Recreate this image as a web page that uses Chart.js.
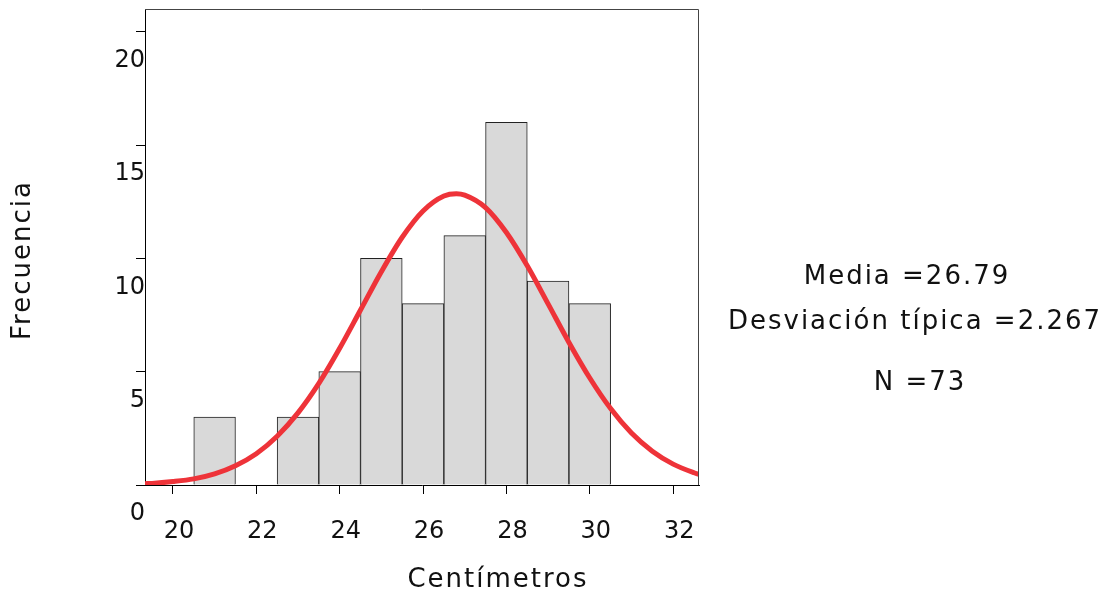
<!DOCTYPE html>
<html>
<head>
<meta charset="utf-8">
<script src="https://cdn.jsdelivr.net/npm/chart.js@4/dist/chart.umd.min.js"></script>
<style>
  html, body { margin: 0; padding: 0; background: #fff; }
  #wrap { width: 1112px; height: 598px; }
</style>
</head>
<body>
<div id="wrap"><canvas id="histChart" width="1112" height="598"></canvas></div>
<script>
// Histogram bins (centre of each 1 cm bin) and counts
const binCenters = [21, 23, 24, 25, 26, 27, 28, 29, 30];
const binCounts = [3, 3, 5, 10, 8, 11, 16, 9, 8];

// Fitted normal curve
const curveX = [19.33, 19.5, 20, 20.5, 21, 21.5, 22, 22.5, 23, 23.5, 24, 24.5, 25, 25.5, 26, 26.5, 26.8,
                27, 27.5, 28, 28.5, 29, 29.5, 30, 30.5, 31, 31.5, 32, 32.5, 32.62];
const curveY = [0.06, 0.07, 0.15, 0.27, 0.49, 0.85, 1.38, 2.15, 3.18, 4.48, 6.03, 7.72, 9.41, 10.93, 12.09, 12.75, 12.85,
                12.79, 12.24, 11.14, 9.67, 7.99, 6.29, 4.72, 3.37, 2.29, 1.49, 0.92, 0.54, 0.47];

const xTicks = [20, 22, 24, 26, 28, 30, 32];
const yTicks = [0, 5, 10, 15, 20];

const statLines = ['Media =26.79', 'Desviación típica =2.267', 'N =73'];
const xTitle = 'Centímetros';
const yTitle = 'Frecuencia';

const FONT = '"DejaVu Sans", sans-serif';

// frame on top and right side, axis titles and summary text
const extras = {
  id: 'extras',
  afterDraw(chart) {
    const { ctx, chartArea: a } = chart;
    ctx.save();
    ctx.strokeStyle = '#444';
    ctx.lineWidth = 1;
    ctx.beginPath();
    ctx.moveTo(a.left, a.top + 0.5);
    ctx.lineTo(a.right - 0.5, a.top + 0.5);
    ctx.lineTo(a.right - 0.5, a.bottom);
    ctx.stroke();

    ctx.fillStyle = '#111';
    ctx.font = '26px ' + FONT;
    ctx.letterSpacing = '2px';
    ctx.textAlign = 'center';
    ctx.textBaseline = 'middle';
    ctx.fillText(statLines[0], 907, 277);
    ctx.fillText(statLines[1], 915, 322);
    ctx.fillText(statLines[2], 920, 383);

    ctx.fillText(xTitle, 498, 580);
    ctx.translate(23, 260);
    ctx.rotate(-Math.PI / 2);
    ctx.fillText(yTitle, 0, 0);
    ctx.restore();
  }
};

const ctx = document.getElementById('histChart').getContext('2d');
const histChart = new Chart(ctx, {
  data: {
    datasets: [
      {
        type: 'line',
        data: curveX.map((x, i) => ({ x: x, y: curveY[i] })),
        borderColor: '#ee3339',
        borderWidth: 5,
        pointRadius: 0,
        cubicInterpolationMode: 'monotone',
        fill: false,
        order: 0
      },
      {
        type: 'bar',
        data: binCenters.map((x, i) => ({ x: x, y: binCounts[i] })),
        backgroundColor: '#d9d9d9',
        borderColor: '#222',
        borderWidth: 1,
        barPercentage: 1,
        categoryPercentage: 1,
        order: 1
      }
    ]
  },
  options: {
    responsive: false,
    animation: false,
    layout: { padding: { left: 0, right: 413, top: 9, bottom: 0 } },
    plugins: { legend: { display: false }, tooltip: { enabled: false } },
    scales: {
      x: {
        type: 'linear',
        min: 19.33,
        max: 32.62,
        offset: false,
        afterFit: s => { s.height = 113; },
        afterBuildTicks: s => { s.ticks = xTicks.map(v => ({ value: v })); },
        grid: { offset: false, drawOnChartArea: false, drawTicks: true, tickLength: 9, color: '#000' },
        border: { color: '#000' },
        ticks: { color: '#111', font: { family: FONT, size: 24 }, padding: 23, labelOffset: 6, maxRotation: 0 }
      },
      y: {
        min: 0,
        max: 21,
        afterFit: s => { s.width = 145; },
        afterBuildTicks: s => { s.ticks = yTicks.map(v => ({ value: v })); },
        grid: { offset: false, drawOnChartArea: false, drawTicks: true, tickLength: 9, color: '#000' },
        border: { color: '#000' },
        ticks: { color: '#111', font: { family: FONT, size: 24 }, padding: -9, labelOffset: 29 }
      }
    }
  },
  plugins: [extras]
});
</script>
</body>
</html>
